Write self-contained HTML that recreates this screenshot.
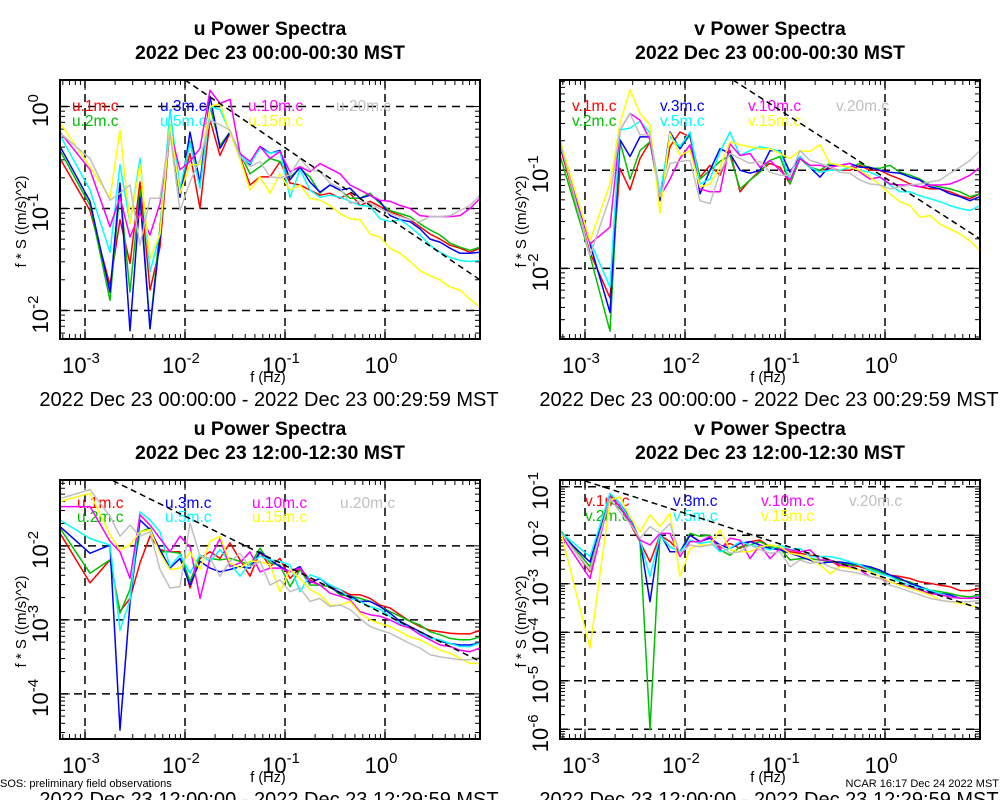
<!DOCTYPE html>
<html><head><meta charset="utf-8"><style>
html,body{margin:0;padding:0;background:#fff;}
svg{display:block;font-family:"Liberation Sans",sans-serif;}
</style></head><body>
<svg id="c" width="1000" height="800" viewBox="0 0 1000 800"></svg>
<script>
// Shared frequency grid (log10 Hz)
const logFreq = [-3.25,-2.95,-2.75,-2.65,-2.55,-2.45,-2.35,-2.25,-2.15,-2.05,-1.95,-1.85,-1.75,-1.65,-1.55,-1.45,-1.35,-1.25,-1.15,-1.05,-0.95,-0.85,-0.75,-0.65,-0.55,-0.45,-0.35,-0.25,-0.15,-0.05,0.05,0.15,0.25,0.35,0.45,0.55,0.65,0.75,0.85,0.95];
const heightNames = ["1m","2m","3m","5m","10m","15m","20m"];
const seriesOrder = ["1m","2m","3m","5m","10m","15m","20m"];
// log10(f*S) values, u 00:00
const uA_1m=[-0.51,-1.02,-1.75,-1.11,-1.54,-0.74,-1.80,-1.38,-0.20,-0.85,-0.46,-1.00,-0.13,-0.48,-0.26,-0.49,-0.77,-0.69,-0.69,-0.54,-0.75,-0.77,-0.82,-0.87,-0.85,-0.90,-0.85,-0.97,-0.93,-0.98,-1.03,-1.07,-1.11,-1.18,-1.25,-1.30,-1.36,-1.39,-1.43,-1.39];
const uA_2m=[-0.43,-0.97,-1.90,-0.82,-1.82,-0.82,-2.18,-1.18,-0.23,-0.87,-0.34,-0.79,0.00,-0.38,-0.25,-0.46,-0.66,-0.59,-0.51,-0.54,-0.69,-0.61,-0.69,-0.85,-0.77,-0.82,-0.90,-0.90,-0.85,-0.95,-1.02,-1.05,-1.08,-1.15,-1.21,-1.26,-1.34,-1.38,-1.41,-1.38];
const uA_3m=[-0.39,-0.93,-1.82,-0.75,-2.20,-0.89,-2.18,-1.28,-0.18,-0.89,-0.25,-0.75,0.10,-0.41,-0.25,-0.51,-0.57,-0.39,-0.46,-0.43,-0.72,-0.59,-0.74,-0.84,-0.77,-0.82,-0.80,-0.90,-0.87,-0.93,-1.07,-1.11,-1.13,-1.20,-1.30,-1.33,-1.39,-1.44,-1.44,-1.43];
const uA_5m=[-0.28,-0.82,-1.43,-0.57,-1.15,-0.51,-1.62,-1.25,-0.03,-0.80,-0.36,-0.80,0.00,-0.03,-0.25,-0.48,-0.56,-0.41,-0.46,-0.44,-0.89,-0.62,-0.82,-0.89,-0.87,-0.89,-0.93,-0.97,-0.98,-1.10,-1.13,-1.11,-1.18,-1.26,-1.36,-1.43,-1.48,-1.51,-1.52,-1.51];
const uA_10m=[-0.25,-0.62,-1.18,-0.89,-1.28,-1.05,-1.26,-0.95,-0.23,-0.62,-0.54,-0.41,0.16,0.03,0.07,-0.46,-0.54,-0.39,-0.51,-0.44,-0.64,-0.59,-0.64,-0.56,-0.61,-0.66,-0.77,-0.82,-0.87,-0.92,-0.93,-0.97,-1.00,-1.07,-1.08,-1.08,-1.08,-1.07,-1.00,-0.90];
const uA_15m=[-0.16,-0.59,-0.90,-0.23,-1.15,-0.57,-1.49,-1.25,-0.18,-0.85,-0.57,-0.57,0.00,0.03,-0.26,-0.51,-0.82,-0.69,-0.85,-0.66,-0.82,-0.77,-0.90,-0.92,-0.97,-1.05,-1.10,-1.11,-1.25,-1.28,-1.39,-1.44,-1.52,-1.61,-1.66,-1.70,-1.77,-1.80,-1.89,-1.97];
const uA_20m=[-0.26,-0.51,-0.92,-0.85,-0.77,-1.36,-0.90,-0.90,-0.26,-1.02,-0.74,-0.52,-0.13,-0.18,-0.23,-0.49,-0.59,-0.54,-0.69,-0.70,-0.67,-0.51,-0.62,-0.64,-0.75,-0.80,-0.95,-0.93,-0.95,-1.00,-1.05,-1.08,-1.11,-1.13,-1.08,-1.08,-1.07,-1.02,-0.97,-0.87];
// v 00:00
const vA_1m=[-0.76,-1.84,-2.30,-0.98,-1.20,-0.88,-0.71,-1.29,-0.76,-0.61,-0.66,-1.07,-0.95,-1.05,-0.80,-1.22,-1.10,-1.00,-0.93,-0.97,-1.14,-0.88,-0.97,-1.00,-0.98,-1.00,-1.00,-0.95,-1.00,-1.00,-1.05,-1.09,-1.14,-1.17,-1.19,-1.19,-1.22,-1.26,-1.29,-1.24];
const vA_2m=[-0.85,-1.87,-2.64,-0.71,-1.09,-0.80,-0.71,-1.26,-0.64,-0.78,-0.64,-1.09,-1.00,-0.91,-0.85,-1.19,-1.10,-1.02,-0.90,-0.86,-1.14,-0.88,-0.97,-1.00,-0.93,-0.95,-0.97,-0.93,-0.98,-0.98,-0.95,-1.02,-1.05,-1.09,-1.15,-1.17,-1.19,-1.22,-1.27,-1.24];
const vA_3m=[-0.74,-1.75,-2.45,-0.69,-0.86,-0.66,-0.66,-1.31,-0.61,-0.78,-0.62,-1.24,-1.00,-0.78,-0.83,-1.00,-1.03,-1.00,-0.80,-0.80,-1.02,-0.86,-0.97,-1.07,-0.95,-0.95,-0.93,-0.97,-0.97,-1.00,-1.02,-1.03,-1.07,-1.10,-1.17,-1.19,-1.24,-1.27,-1.31,-1.27];
const vA_5m=[-0.73,-1.72,-2.19,-0.59,-0.57,-0.50,-0.62,-1.24,-0.66,-0.76,-0.61,-1.14,-1.09,-0.81,-0.61,-0.85,-0.80,-0.76,-0.78,-0.81,-1.10,-0.86,-0.97,-1.02,-1.00,-1.00,-0.97,-1.00,-1.02,-1.07,-1.15,-1.22,-1.22,-1.26,-1.29,-1.32,-1.36,-1.39,-1.41,-1.36];
const vA_10m=[-0.69,-1.75,-1.58,-0.59,-0.42,-0.49,-0.69,-1.27,-1.09,-0.88,-0.74,-1.19,-1.22,-1.22,-0.73,-0.85,-0.83,-0.97,-0.90,-1.00,-1.10,-0.88,-0.95,-0.95,-0.97,-0.95,-0.93,-1.02,-1.09,-1.07,-1.14,-1.15,-1.15,-1.17,-1.15,-1.15,-1.14,-1.10,-1.05,-0.97];
const vA_15m=[-0.69,-1.72,-1.14,-0.52,-0.18,-0.42,-0.54,-1.44,-0.62,-0.85,-0.80,-1.17,-1.14,-0.97,-0.71,-0.74,-0.76,-0.78,-0.78,-0.83,-0.88,-0.80,-0.81,-0.74,-0.93,-0.95,-0.97,-1.00,-1.07,-1.15,-1.24,-1.32,-1.36,-1.48,-1.46,-1.55,-1.60,-1.65,-1.72,-1.82];
const vA_20m=[-0.71,-1.87,-1.27,-0.59,-0.42,-0.64,-0.64,-1.27,-0.93,-0.91,-0.90,-1.31,-1.34,-1.02,-0.83,-0.88,-0.93,-0.91,-1.02,-1.05,-1.05,-0.80,-0.90,-0.93,-0.97,-1.02,-1.03,-1.10,-1.14,-1.15,-1.19,-1.17,-1.15,-1.14,-1.12,-1.10,-1.03,-0.97,-0.90,-0.80];
// u 12:00
const uB_1m=[-1.83,-2.50,-2.19,-2.89,-2.71,-2.23,-1.87,-2.05,-2.08,-2.08,-2.57,-2.17,-2.08,-2.17,-1.96,-2.19,-2.41,-2.08,-2.28,-2.17,-2.44,-2.30,-2.46,-2.53,-2.55,-2.59,-2.66,-2.66,-2.71,-2.80,-2.84,-2.93,-3.02,-3.09,-3.14,-3.16,-3.18,-3.19,-3.19,-3.14];
const uB_2m=[-1.76,-2.37,-2.19,-2.91,-2.59,-1.81,-1.76,-2.08,-2.08,-2.10,-2.48,-2.14,-2.17,-2.19,-2.17,-2.21,-2.26,-2.03,-2.23,-2.26,-2.55,-2.32,-2.53,-2.53,-2.55,-2.66,-2.68,-2.71,-2.75,-2.82,-2.89,-2.95,-3.02,-3.07,-3.16,-3.20,-3.25,-3.27,-3.27,-3.23];
const uB_3m=[-1.74,-2.10,-1.99,-4.49,-2.77,-1.65,-1.78,-2.05,-2.30,-2.17,-2.53,-2.21,-2.30,-2.35,-2.32,-2.28,-2.30,-2.08,-2.19,-2.28,-2.35,-2.28,-2.50,-2.44,-2.55,-2.64,-2.68,-2.75,-2.75,-2.82,-2.91,-3.02,-3.09,-3.16,-3.23,-3.29,-3.32,-3.34,-3.34,-3.31];
const uB_5m=[-1.65,-1.90,-1.99,-3.14,-2.73,-1.54,-1.65,-1.81,-2.28,-2.12,-2.37,-2.12,-2.21,-2.05,-2.23,-2.41,-2.23,-2.14,-2.19,-2.21,-2.26,-2.62,-2.39,-2.44,-2.53,-2.59,-2.71,-2.75,-2.82,-2.86,-2.95,-3.05,-3.11,-3.18,-3.25,-3.27,-3.32,-3.36,-3.36,-3.31];
const uB_10m=[-1.47,-1.47,-1.94,-2.08,-2.44,-1.58,-1.72,-1.90,-2.08,-1.87,-2.01,-2.71,-2.17,-1.90,-2.28,-2.23,-2.08,-2.35,-2.30,-2.30,-2.35,-2.30,-2.48,-2.53,-2.64,-2.68,-2.73,-2.89,-2.93,-2.95,-3.00,-3.07,-3.11,-3.20,-3.27,-3.34,-3.36,-3.41,-3.43,-3.38];
const uB_15m=[-1.40,-1.29,-1.85,-2.05,-1.99,-1.81,-1.78,-2.10,-2.32,-2.30,-2.08,-2.32,-1.94,-1.87,-2.23,-2.30,-2.21,-2.21,-2.26,-2.62,-2.32,-2.44,-2.59,-2.66,-2.80,-2.80,-2.75,-2.91,-3.00,-3.05,-3.09,-3.16,-3.23,-3.27,-3.34,-3.41,-3.45,-3.52,-3.59,-3.59];
const uB_20m=[-1.36,-1.24,-1.60,-1.87,-1.72,-1.87,-1.81,-2.32,-2.57,-2.55,-1.69,-2.14,-2.17,-2.41,-2.21,-2.10,-2.28,-2.21,-2.53,-2.46,-2.62,-2.57,-2.75,-2.71,-2.82,-2.80,-2.86,-2.98,-3.09,-3.14,-3.18,-3.25,-3.32,-3.38,-3.47,-3.50,-3.52,-3.54,-3.54,-3.50];
// v 12:00
const vB_1m=[-1.89,-2.75,-1.17,-1.41,-1.76,-2.13,-2.55,-2.00,-2.13,-2.34,-2.00,-2.13,-2.06,-2.24,-2.17,-2.27,-2.13,-2.10,-2.24,-2.27,-2.34,-2.37,-2.41,-2.44,-2.51,-2.65,-2.61,-2.65,-2.72,-2.79,-2.82,-2.85,-2.89,-2.96,-2.99,-3.03,-3.06,-3.14,-3.14,-3.09];
const vB_2m=[-1.89,-2.65,-1.31,-1.45,-1.69,-2.13,-6.01,-2.00,-2.24,-2.34,-1.96,-2.02,-2.00,-2.30,-2.41,-2.24,-2.20,-2.13,-2.24,-2.27,-2.51,-2.48,-2.48,-2.51,-2.55,-2.58,-2.61,-2.61,-2.68,-2.75,-2.85,-2.92,-2.96,-3.06,-3.13,-3.16,-3.20,-3.25,-3.27,-3.23];
const vB_3m=[-1.96,-2.55,-1.14,-1.34,-1.65,-2.10,-3.37,-1.96,-2.34,-2.34,-2.00,-2.13,-2.06,-2.20,-2.27,-2.17,-2.13,-2.20,-2.27,-2.30,-2.37,-2.44,-2.51,-2.58,-2.55,-2.55,-2.58,-2.61,-2.65,-2.72,-2.82,-2.89,-2.99,-3.06,-3.16,-3.20,-3.23,-3.30,-3.30,-3.27];
const vB_5m=[-1.93,-2.44,-1.14,-1.34,-1.69,-2.10,-2.85,-2.00,-2.24,-2.34,-2.10,-2.17,-2.13,-2.34,-2.27,-2.13,-2.20,-2.24,-2.30,-2.20,-2.30,-2.27,-2.44,-2.44,-2.44,-2.48,-2.55,-2.61,-2.72,-2.79,-2.85,-2.96,-3.03,-3.09,-3.13,-3.20,-3.27,-3.30,-3.30,-3.25];
const vB_10m=[-1.96,-2.89,-1.21,-1.41,-1.72,-2.10,-2.20,-1.96,-1.96,-2.44,-2.13,-2.13,-2.02,-2.30,-2.06,-2.10,-2.48,-2.20,-2.48,-2.27,-2.30,-2.34,-2.30,-2.51,-2.51,-2.61,-2.65,-2.72,-2.85,-2.89,-2.96,-3.03,-3.06,-3.13,-3.20,-3.23,-3.27,-3.30,-3.30,-3.27];
const vB_15m=[-1.86,-4.33,-1.27,-1.21,-1.62,-1.93,-1.58,-1.82,-1.55,-2.85,-2.27,-2.20,-2.20,-1.89,-2.30,-2.34,-2.34,-2.24,-2.20,-2.24,-2.37,-2.41,-2.48,-2.61,-2.79,-2.65,-2.68,-2.72,-2.75,-2.85,-2.96,-3.03,-3.09,-3.16,-3.23,-3.34,-3.37,-3.40,-3.44,-3.51];
const vB_20m=[-1.93,-2.72,-1.24,-1.52,-1.76,-2.06,-1.82,-1.96,-1.76,-2.37,-2.20,-2.24,-2.20,-2.20,-2.37,-2.34,-2.20,-2.30,-2.37,-2.34,-2.65,-2.51,-2.58,-2.55,-2.65,-2.72,-2.75,-2.79,-2.85,-2.89,-3.03,-3.09,-3.16,-3.23,-3.30,-3.34,-3.37,-3.37,-3.37,-3.34];
// -2/3 reference lines: [logf0, logS0, logf1, logS1]
const refA_u=[-2.0,0.26,0.95,-1.70];
const refA_v=[-1.52,-0.08,0.95,-1.70];
const refB_u=[-2.72,-1.12,0.95,-3.56];
const refB_v=[-3.0,-0.88,0.95,-3.51];
const xTickExps=[-3,-2,-1,0];
const colors={"1m":"#ff0000","2m":"#00c000","3m":"#0000ff","5m":"#00ffff","10m":"#ff00ff","15m":"#ffff00","20m":"#c0c0c0"};

const svg=document.getElementById('c');
const NS='http://www.w3.org/2000/svg';
function mk(tag,attrs,parent){const e=document.createElementNS(NS,tag);for(const k in attrs)e.setAttribute(k,attrs[k]);(parent||svg).appendChild(e);return e;}

const panels=[
 {key:'u-top',comp:'u',ox:60,oy:80,yTop:0.26,yBot:-2.28,yExps:[0,-1,-2],data:{"1m":uA_1m,"2m":uA_2m,"3m":uA_3m,"5m":uA_5m,"10m":uA_10m,"15m":uA_15m,"20m":uA_20m},ref:refA_u,title2:'2022 Dec 23 00:00-00:30 MST',range:'2022 Dec 23 00:00:00 - 2022 Dec 23 00:29:59 MST',legX:[72,160,248,336],legY:[105,120]},
 {key:'v-top',comp:'v',ox:560,oy:80,yTop:-0.08,yBot:-2.72,yExps:[-1,-2],data:{"1m":vA_1m,"2m":vA_2m,"3m":vA_3m,"5m":vA_5m,"10m":vA_10m,"15m":vA_15m,"20m":vA_20m},ref:refA_v,title2:'2022 Dec 23 00:00-00:30 MST',range:'2022 Dec 23 00:00:00 - 2022 Dec 23 00:29:59 MST',legX:[572,660,748,836],legY:[105,120]},
 {key:'u-bottom',comp:'u',ox:60,oy:480,yTop:-1.11,yBot:-4.61,yExps:[-2,-3,-4],data:{"1m":uB_1m,"2m":uB_2m,"3m":uB_3m,"5m":uB_5m,"10m":uB_10m,"15m":uB_15m,"20m":uB_20m},ref:refB_u,title2:'2022 Dec 23 12:00-12:30 MST',range:'2022 Dec 23 12:00:00 - 2022 Dec 23 12:29:59 MST',legX:[77,165,252,340],legY:[502,516]},
 {key:'v-bottom',comp:'v',ox:560,oy:480,yTop:-0.86,yBot:-6.2,yExps:[-1,-2,-3,-4,-5,-6],data:{"1m":vB_1m,"2m":vB_2m,"3m":vB_3m,"5m":vB_5m,"10m":vB_10m,"15m":vB_15m,"20m":vB_20m},ref:refB_v,title2:'2022 Dec 23 12:00-12:30 MST',range:'2022 Dec 23 12:00:00 - 2022 Dec 23 12:29:59 MST',legX:[585,673,761,849],legY:[500,515]}
];
const W=420,H=259,XL=-3.25,XR=0.95;
const legendSlots=[["1m",0,0],["3m",1,0],["10m",2,0],["20m",3,0],["2m",0,1],["5m",1,1],["15m",2,1]];

panels.forEach(p=>{
  const g=mk('g',{});
  
  
  const xs=v=>p.ox+(v-XL)/(XR-XL)*W;
  const ys=v=>p.oy+(p.yTop-v)/(p.yTop-p.yBot)*H;
  // titles
  let t=mk('text',{x:p.ox+210,y:p.oy-45,'text-anchor':'middle','font-size':'19.5','font-weight':'bold'},g);
  t.textContent=p.comp+' Power Spectra';
  
  
  t=mk('text',{x:p.ox+210,y:p.oy-21,'text-anchor':'middle','font-size':'19.5','font-weight':'bold'},g);
  t.textContent=p.title2;
  
  
  // clip
  const cid='clip-'+p.key;
  const cp=mk('clipPath',{id:cid},g);mk('rect',{x:p.ox,y:p.oy,width:W,height:H},cp);
  // grid
  xTickExps.forEach(e=>{
    const l=mk('line',{x1:xs(e),x2:xs(e),y1:p.oy,y2:p.oy+H,stroke:'#000','stroke-width':'1.5','stroke-dasharray':'8,6'},g);
    
    
    const tl=mk('text',{x:xs(e)-4,y:p.oy+H+34,'text-anchor':'middle','font-size':'22'},g);
    tl.innerHTML='10<tspan dy="-10" font-size="15">'+e+'</tspan>';
    
    
  });
  p.yExps.forEach(e=>{
    const l=mk('line',{x1:p.ox,x2:p.ox+W,y1:ys(e),y2:ys(e),stroke:'#000','stroke-width':'1.5','stroke-dasharray':'8,6'},g);
    
    
    const tl=mk('text',{transform:'translate('+(p.ox-12)+','+(ys(e)+4)+') rotate(-90)','text-anchor':'middle','font-size':'22'},g);
    tl.innerHTML='10<tspan dy="-10" font-size="15">'+e+'</tspan>';
    
    
  });
  // minor ticks
  for(let d=-4;d<=1;d++){for(let m=1;m<=9;m++){const v=d+Math.log10(m);if(v<XL||v>XR)continue;const x=xs(v);const len=m===1?10:5;
    mk('line',{x1:x,x2:x,y1:p.oy+H,y2:p.oy+H-len,stroke:'#000','stroke-width':'1'},g);
    mk('line',{x1:x,x2:x,y1:p.oy,y2:p.oy+len,stroke:'#000','stroke-width':'1'},g);}}
  for(let d=-7;d<=1;d++){for(let m=1;m<=9;m++){const v=d+Math.log10(m);if(v>p.yTop||v<p.yBot)continue;const y=ys(v);const len=m===1?10:5;
    mk('line',{x1:p.ox,x2:p.ox+len,y1:y,y2:y,stroke:'#000','stroke-width':'1'},g);
    mk('line',{x1:p.ox+W,x2:p.ox+W-len,y1:y,y2:y,stroke:'#000','stroke-width':'1'},g);}}
  // legend
  legendSlots.forEach(s=>{
    const lt=mk('text',{x:p.legX[s[1]],y:p.legY[s[2]]+6,'font-size':'15.5',fill:colors[s[0]]},g);
    lt.textContent=p.comp+'.'+s[0]+'.c';
    
    
  });
  // series
  const sg=mk('g',{'clip-path':'url(#'+cid+')'},g);
  seriesOrder.forEach(k=>{
    const arr=p.data[k];
    const pts=arr.map((v,i)=>xs(logFreq[i]).toFixed(1)+','+ys(v).toFixed(1)).join(' ');
    const pl=mk('polyline',{points:pts,fill:'none',stroke:colors[k],'stroke-width':'1.5','stroke-linejoin':'round'},sg);
    
    
  });
  const r=p.ref;
  const rl=mk('line',{x1:xs(r[0]),y1:ys(r[1]),x2:xs(r[2]),y2:ys(r[3]),stroke:'#000','stroke-width':'1.5','stroke-dasharray':'6,4'},sg);
  
  
  // frame
  const fr=mk('rect',{x:p.ox,y:p.oy,width:W,height:H,fill:'none',stroke:'#000','stroke-width':'2'},g);
  
  
  // axis titles
  let at=mk('text',{x:p.ox+208,y:p.oy+H+43,'text-anchor':'middle','font-size':'14.5'},g);
  at.textContent='f (Hz)';
  
  
  at=mk('text',{transform:'translate('+(p.ox-34)+','+(p.oy+H/2+12)+') rotate(-90)','text-anchor':'middle','font-size':'15'},g);
  at.textContent='f * S ((m/s)^2)';
  
  
  at=mk('text',{x:p.ox+209,y:p.oy+H+67,'text-anchor':'middle','font-size':'20'},g);
  at.textContent=p.range;
  
  
});
let ft=mk('text',{x:0,y:787,'font-size':'11'});
ft.textContent='SOS: preliminary field observations';


ft=mk('text',{x:999,y:787,'font-size':'11','text-anchor':'end'});
ft.textContent='NCAR 16:17 Dec 24 2022 MST';


</script>
</body></html>
